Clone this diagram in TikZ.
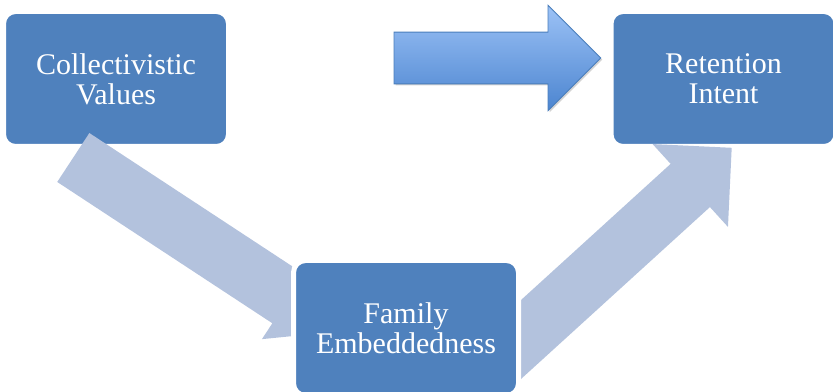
\documentclass[tikz,border=0pt]{standalone}
\usepackage{fontspec}
\setmainfont{Liberation Serif}
\usetikzlibrary{shadows, arrows, shapes, positioning}

\definecolor{boxblue}{RGB}{79,129,189}
\definecolor{linkblue}{RGB}{179,194,221}
\definecolor{toplight}{RGB}{156,194,246}
\definecolor{topdark}{RGB}{76,133,208}
\definecolor{topedge}{RGB}{74,126,187}

\tikzset{
  factor/.style={rectangle, rounded corners=9pt, fill=boxblue, draw=white,
    line width=3.75pt, minimum width=168.75pt, minimum height=101.25pt,
    inner sep=0pt, align=center, text=white,
    font=\fontsize{22.5}{22.5}\selectfont},
  link/.style={single arrow, fill=linkblue, draw=none, inner xsep=0pt,
    text height=0pt, text depth=0pt, outer sep=0pt},
  bigarrow/.style={single arrow, top color=toplight, bottom color=topdark,
    draw=topedge, line width=0.6pt, inner xsep=0pt, inner ysep=19.1pt,
    text height=0pt, text depth=0pt, outer sep=0pt,
    single arrow head extend=20.1pt, minimum height=155pt,
    drop shadow={opacity=0.35, shadow xshift=1.2pt, shadow yshift=-1.2pt}}
}

\begin{document}
\begin{tikzpicture}[x=0.75pt, y=-0.75pt]
\useasboundingbox (0,0) rectangle (833,392);

\path (116,79) node[factor] (values) {Collectivistic\\Values};
\path (723.5,79) node[factor] (intent) {Retention\\Intent};

% links, under the middle box
\coordinate (values-out) at (73.3,157.5);
\coordinate (intent-in) at (731.7,147.8);
\path (values-out) node[link, anchor=tail, rotate=-33.3, inner ysep=21.75pt,
  single arrow head extend=14.25pt, single arrow tip angle=78,
  minimum height=237.75pt] (values-family) {};
\path (intent-in) node[link, anchor=tip, rotate=42.3, inner ysep=21.7pt,
  single arrow head extend=20.1pt, minimum height=255pt] (family-intent) {};

\path (406,328) node[factor] (family) {Family\\Embeddedness};

\coordinate (big-tip) at (600.7,58);
\path (big-tip) node[bigarrow, anchor=tip] (big) {};
\end{tikzpicture}
\end{document}
